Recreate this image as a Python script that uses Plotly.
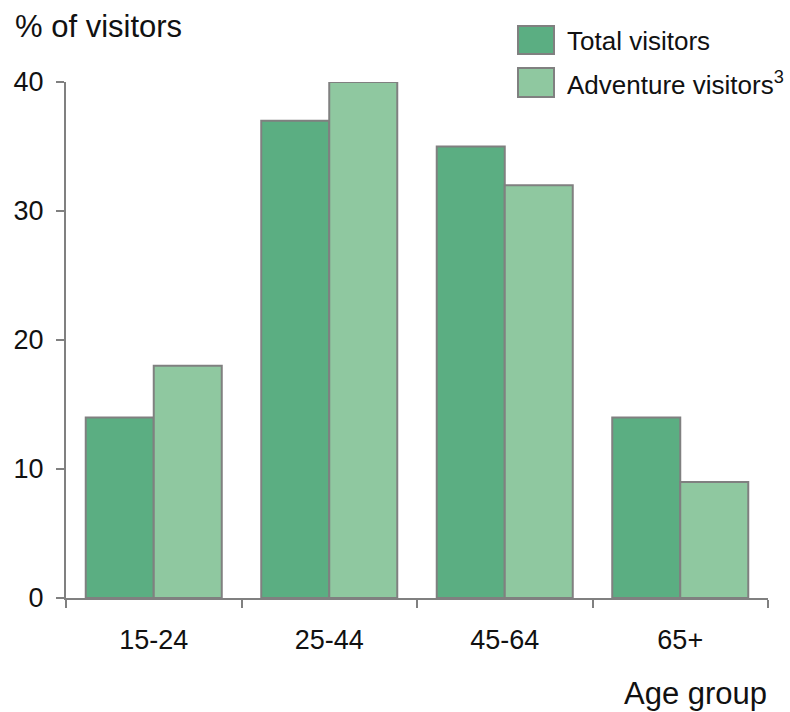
import plotly.graph_objects as go

# Share of visitors by age group
age_groups = ["15-24", "25-44", "45-64", "65+"]
total_visitors = [14, 37, 35, 14]
adventure_visitors = [18, 40, 32, 9]

series_names = ["Total visitors", "Adventure visitors<sup>3</sup>"]
series_colors = ["#5BAE82", "#8FC8A0"]
outline = "#808080"
font_family = "Liberation Sans, Arial, sans-serif"

W, H = 790, 712
M_L, M_R, M_T, M_B = 66, 22, 82, 114
plot_w = W - M_L - M_R
plot_h = H - M_T - M_B


def px_to_paper(x, y):
    """Convert page pixel coordinates to paper coordinates."""
    return (x - M_L) / plot_w, (H - M_B - y) / plot_h


fig = go.Figure()
for name, values, color in zip(series_names, [total_visitors, adventure_visitors], series_colors):
    fig.add_trace(go.Bar(
        x=age_groups, y=values, name=name,
        marker=dict(color=color, line=dict(color=outline, width=2)),
        showlegend=False, hoverinfo="x+y",
    ))

# Legend drawn as swatches + labels
shapes = []
annotations = []
legend_rows = [(26, 54), (68, 97)]
for (top, bottom), name, color in zip(legend_rows, series_names, series_colors):
    x0, y0 = px_to_paper(518, bottom)
    x1, y1 = px_to_paper(554, top)
    shapes.append(dict(type="rect", xref="paper", yref="paper", x0=x0, x1=x1, y0=y0, y1=y1,
                       fillcolor=color, line=dict(color=outline, width=2)))
    tx, ty = px_to_paper(565, (top + bottom) / 2 + 1)
    annotations.append(dict(text=name, xref="paper", yref="paper", x=tx, y=ty,
                            xanchor="left", yanchor="middle", showarrow=False,
                            font=dict(size=26, color="#111", family=font_family)))

# Axis titles
tx, ty = px_to_paper(13, 26)
annotations.append(dict(text="% of visitors", xref="paper", yref="paper", x=tx, y=ty,
                        xanchor="left", yanchor="middle", showarrow=False,
                        font=dict(size=31, color="#111", family=font_family)))
tx, ty = px_to_paper(769, 694)
annotations.append(dict(text="Age group", xref="paper", yref="paper", x=tx, y=ty,
                        xanchor="right", yanchor="middle", showarrow=False,
                        font=dict(size=31, color="#111", family=font_family)))

fig.update_layout(
    width=W, height=H,
    margin=dict(l=M_L, r=M_R, t=M_T, b=M_B, pad=0),
    paper_bgcolor="white", plot_bgcolor="white",
    barmode="group", bargap=0.225, bargroupgap=0,
    font=dict(family=font_family, color="#111"),
    shapes=shapes, annotations=annotations,
    xaxis=dict(
        type="category", showline=True, linecolor=outline, linewidth=2,
        ticks="outside", tickson="boundaries", ticklen=8, tickcolor=outline, tickwidth=2,
        tickfont=dict(size=27), ticklabelstandoff=17, showgrid=False, zeroline=False,
        fixedrange=True,
    ),
    yaxis=dict(
        range=[0, 40], dtick=10, showline=True, linecolor=outline, linewidth=2,
        ticks="outside", ticklen=8, tickcolor=outline, tickwidth=2,
        tickfont=dict(size=27), ticklabelstandoff=7, showgrid=False, zeroline=False,
        fixedrange=True,
    ),
)

fig.write_html("out.html", config={"displayModeBar": False})
